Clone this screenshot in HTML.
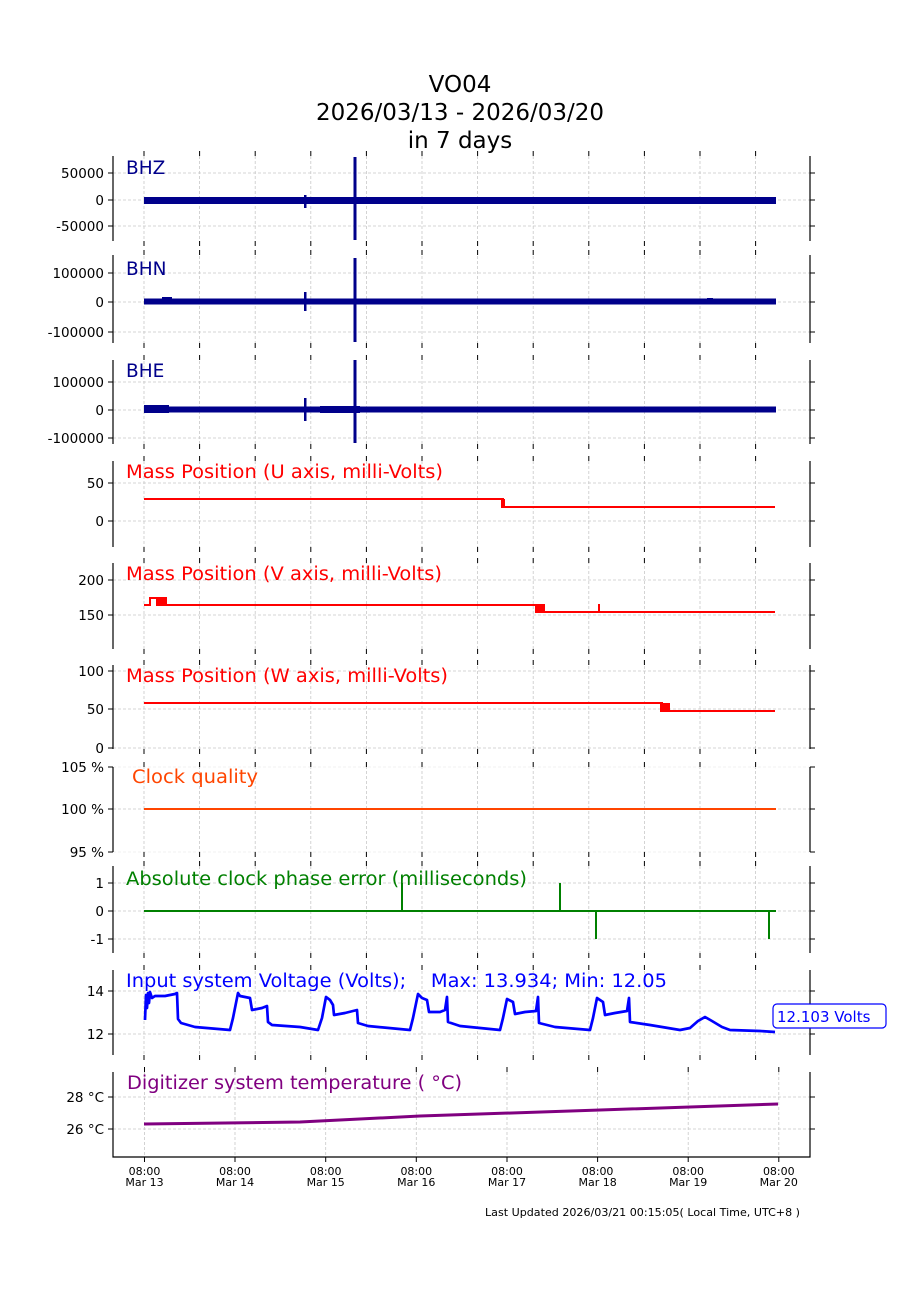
<!DOCTYPE html>
<html><head><meta charset="utf-8"><style>body{margin:0;background:#fff}svg{display:block}text{font-family:"DejaVu Sans","Liberation Sans",sans-serif}</style></head>
<body>
<svg width="900" height="1300" viewBox="0 0 900 1300" xmlns="http://www.w3.org/2000/svg">
<defs>
<g id="tk" stroke="#000" stroke-width="1">
<line x1="144" y1="0" x2="144" y2="5"/><line x1="199.6" y1="0" x2="199.6" y2="5"/><line x1="255.2" y1="0" x2="255.2" y2="5"/><line x1="310.8" y1="0" x2="310.8" y2="5"/><line x1="366.4" y1="0" x2="366.4" y2="5"/><line x1="422" y1="0" x2="422" y2="5"/><line x1="477.6" y1="0" x2="477.6" y2="5"/><line x1="533.2" y1="0" x2="533.2" y2="5"/><line x1="588.8" y1="0" x2="588.8" y2="5"/><line x1="644.4" y1="0" x2="644.4" y2="5"/><line x1="700" y1="0" x2="700" y2="5"/><line x1="755.6" y1="0" x2="755.6" y2="5"/>
</g>
</defs>

<g font-size="23" text-anchor="middle" fill="#000">
<text x="460" y="92">VO04</text>
<text x="460" y="120">2026/03/13 - 2026/03/20</text>
<text x="460" y="148">in 7 days</text>
</g>

<!-- vertical grids full height -->
<g stroke="#c8c8c8" stroke-width="0.8" stroke-dasharray="3,2">
<line x1="144" y1="156" x2="144" y2="1055"/><line x1="199.6" y1="156" x2="199.6" y2="1055"/><line x1="255.2" y1="156" x2="255.2" y2="1055"/><line x1="310.8" y1="156" x2="310.8" y2="1055"/><line x1="366.4" y1="156" x2="366.4" y2="1055"/><line x1="422" y1="156" x2="422" y2="1055"/><line x1="477.6" y1="156" x2="477.6" y2="1055"/><line x1="533.2" y1="156" x2="533.2" y2="1055"/><line x1="588.8" y1="156" x2="588.8" y2="1055"/><line x1="644.4" y1="156" x2="644.4" y2="1055"/><line x1="700" y1="156" x2="700" y2="1055"/><line x1="755.6" y1="156" x2="755.6" y2="1055"/>
</g>
<g fill="#fff">
<rect x="120" y="241.5" width="680" height="13"/>
<rect x="120" y="343.5" width="680" height="16"/>
<rect x="120" y="444.5" width="680" height="16"/>
<rect x="120" y="547.5" width="680" height="15"/>
<rect x="120" y="649.5" width="680" height="15"/>
<rect x="120" y="749.5" width="680" height="17"/>
<rect x="120" y="852.5" width="680" height="13"/>
<rect x="120" y="953.5" width="680" height="16"/>
</g>
<!-- temperature panel grid -->
<g stroke="#c8c8c8" stroke-width="0.8" stroke-dasharray="3,2">
<line x1="144.5" y1="1072" x2="144.5" y2="1157"/><line x1="235" y1="1072" x2="235" y2="1157"/><line x1="325.7" y1="1072" x2="325.7" y2="1157"/><line x1="416.3" y1="1072" x2="416.3" y2="1157"/><line x1="507" y1="1072" x2="507" y2="1157"/><line x1="597.6" y1="1072" x2="597.6" y2="1157"/><line x1="688.2" y1="1072" x2="688.2" y2="1157"/><line x1="778.8" y1="1072" x2="778.8" y2="1157"/>
</g>
<!-- horizontal grids -->
<g stroke="#c8c8c8" stroke-width="0.8" stroke-dasharray="3,2">
<line x1="113" x2="810" y1="173" y2="173"/><line x1="113" x2="810" y1="200" y2="200"/><line x1="113" x2="810" y1="226" y2="226"/>
<line x1="113" x2="810" y1="273" y2="273"/><line x1="113" x2="810" y1="302" y2="302"/><line x1="113" x2="810" y1="332" y2="332"/>
<line x1="113" x2="810" y1="382" y2="382"/><line x1="113" x2="810" y1="410" y2="410"/><line x1="113" x2="810" y1="438" y2="438"/>
<line x1="113" x2="810" y1="483" y2="483"/><line x1="113" x2="810" y1="521" y2="521"/>
<line x1="113" x2="810" y1="580" y2="580"/><line x1="113" x2="810" y1="615" y2="615"/>
<line x1="113" x2="810" y1="671" y2="671"/><line x1="113" x2="810" y1="709" y2="709"/><line x1="113" x2="810" y1="748" y2="748"/>
<line x1="113" x2="810" y1="767" y2="767" stroke="#eee"/><line x1="113" x2="810" y1="809" y2="809"/><line x1="113" x2="810" y1="852" y2="852" stroke="#eee"/>
<line x1="113" x2="810" y1="883" y2="883"/><line x1="113" x2="810" y1="911" y2="911"/><line x1="113" x2="810" y1="939" y2="939"/>
<line x1="113" x2="810" y1="991" y2="991"/><line x1="113" x2="810" y1="1034" y2="1034"/>
<line x1="113" x2="810" y1="1097" y2="1097"/><line x1="113" x2="810" y1="1129" y2="1129"/>
</g>

<!-- x ticks -->
<use href="#tk" y="151"/><use href="#tk" y="241"/>
<use href="#tk" y="250"/><use href="#tk" y="343"/>
<use href="#tk" y="355"/><use href="#tk" y="444"/>
<use href="#tk" y="456"/><use href="#tk" y="547"/>
<use href="#tk" y="558"/><use href="#tk" y="649"/>
<use href="#tk" y="660"/><use href="#tk" y="749"/>
<use href="#tk" y="762"/><use href="#tk" y="852"/>
<use href="#tk" y="861"/><use href="#tk" y="953"/>
<use href="#tk" y="965"/><use href="#tk" y="1055"/>
<g stroke="#000" stroke-width="1">
<line x1="144.5" y1="1067" x2="144.5" y2="1072"/><line x1="235" y1="1067" x2="235" y2="1072"/><line x1="325.7" y1="1067" x2="325.7" y2="1072"/><line x1="416.3" y1="1067" x2="416.3" y2="1072"/><line x1="507" y1="1067" x2="507" y2="1072"/><line x1="597.6" y1="1067" x2="597.6" y2="1072"/><line x1="688.2" y1="1067" x2="688.2" y2="1072"/><line x1="778.8" y1="1067" x2="778.8" y2="1072"/>
<line x1="144.5" y1="1157" x2="144.5" y2="1162"/><line x1="235" y1="1157" x2="235" y2="1162"/><line x1="325.7" y1="1157" x2="325.7" y2="1162"/><line x1="416.3" y1="1157" x2="416.3" y2="1162"/><line x1="507" y1="1157" x2="507" y2="1162"/><line x1="597.6" y1="1157" x2="597.6" y2="1162"/><line x1="688.2" y1="1157" x2="688.2" y2="1162"/><line x1="778.8" y1="1157" x2="778.8" y2="1162"/>
</g>

<!-- spines -->
<g stroke="#000" stroke-width="1.2" fill="none">
<path d="M113 156V241M810 156V241M113 255V343M810 255V343M113 360V444M810 360V444M113 461V547M810 461V547M113 563V649M810 563V649M113 665V749M810 665V749M113 767V852M810 767V852M113 866V953M810 866V953M113 970V1055M810 970V1055M113 1072V1157H810V1072"/>
</g>
<g stroke="#000" stroke-width="1">
<path d="M108 173H113M108 200H113M108 226H113M810 173H815M810 200H815M810 226H815
M108 273H113M108 302H113M108 332H113M810 273H815M810 302H815M810 332H815
M108 382H113M108 410H113M108 438H113M810 382H815M810 410H815M810 438H815
M108 483H113M108 521H113M810 483H815M810 521H815
M108 580H113M108 615H113M810 580H815M810 615H815
M108 671H113M108 709H113M108 748H113M810 671H815M810 709H815M810 748H815
M108 767H113M108 809H113M108 852H113M810 767H815M810 809H815M810 852H815
M108 883H113M108 911H113M108 939H113M810 883H815M810 911H815M810 939H815
M108 991H113M108 1034H113M810 991H815M810 1034H815
M108 1097H113M108 1129H113M810 1097H815M810 1129H815"/>
</g>
<g font-size="13.5" text-anchor="end" fill="#000">
<text x="104" y="178">50000</text><text x="104" y="205">0</text><text x="104" y="231">-50000</text>
<text x="104" y="278">100000</text><text x="104" y="307">0</text><text x="104" y="337">-100000</text>
<text x="104" y="387">100000</text><text x="104" y="415">0</text><text x="104" y="443">-100000</text>
<text x="104" y="488">50</text><text x="104" y="526">0</text>
<text x="104" y="585">200</text><text x="104" y="620">150</text>
<text x="104" y="676">100</text><text x="104" y="714">50</text><text x="104" y="753">0</text>
<text x="104" y="772">105 %</text><text x="104" y="814">100 %</text><text x="104" y="857">95 %</text>
<text x="104" y="888">1</text><text x="104" y="916">0</text><text x="104" y="944">-1</text>
<text x="104" y="996">14</text><text x="104" y="1039">12</text>
<text x="104" y="1102">28 °C</text><text x="104" y="1134">26 °C</text>
</g>

<!-- seismic traces -->
<g fill="#00008b">
<rect x="144" y="197" width="632" height="7"/>
<rect x="353.5" y="157" width="3" height="83"/>
<rect x="304" y="195" width="2.5" height="13"/>
<rect x="144" y="298.5" width="632" height="6"/>
<rect x="162" y="297" width="10" height="3"/>
<rect x="707" y="298" width="6" height="5"/>
<rect x="353.5" y="258" width="3" height="84"/>
<rect x="304" y="292" width="2.5" height="19"/>
<rect x="144" y="406.5" width="632" height="6"/>
<rect x="144" y="405" width="25" height="8"/>
<rect x="320" y="406" width="40" height="7"/>
<rect x="353.5" y="360" width="3" height="83"/>
<rect x="304" y="398" width="2.5" height="23"/>
</g>

<g stroke="#ff0000" stroke-width="2" fill="none">
<path d="M144 499H503V507H775"/>
<path d="M144 605H150V598H166V605H538V612H775"/>
<path d="M599 604V612"/>
<path d="M144 703H662V711H775"/>
</g>
<g fill="#ff0000">
<rect x="501" y="499" width="4" height="9"/>
<rect x="156" y="598" width="10" height="8"/>
<rect x="535" y="604" width="10" height="9"/>
<rect x="660" y="703" width="10" height="9"/>
</g>

<path d="M144 809H776" stroke="#ff4500" stroke-width="2"/>
<path d="M144 911H776M402 911V883M560 911V883M596 911V939M769 911V939" stroke="#008000" stroke-width="2" fill="none"/>

<path fill="none" stroke="#0000ff" stroke-width="2.7" stroke-linejoin="round" d="M145 1020L146 995L147 1008L148 993L149 1003L150 992L152 998L155 996L165 996L175 994L177 993L178 1019L181 1023L195 1027L230 1030L233 1018L238 993L240 996L250 998L252 1010L262 1008L267 1006L268 1022L272 1025L300 1027L318 1030L322 1018L326 997L330 1000L333 1005L334 1015L345 1013L357 1010L358 1023L368 1026L410 1030L413 1018L418 994L422 998L427 1000L429 1012L440 1012L445 1010L447 997L448 1022L460 1026L500 1030L503 1018L507 999L513 1002L515 1014L525 1012L536 1011L538 997L539 1023L555 1027L590 1030L593 1018L597 998L603 1002L605 1015L615 1013L627 1011L629 998L630 1022L650 1025L680 1030L690 1028L698 1021L705 1017L712 1021L722 1027L730 1030L760 1031L775 1032"/>
<rect x="773" y="1004" width="113" height="24" rx="4" ry="4" fill="#fff" stroke="#0000ff" stroke-width="1.2"/>
<text x="777" y="1022" font-size="15" fill="#0000ff">12.103 Volts</text>

<path d="M144 1124L300 1122L420 1116L600 1110L778 1104" stroke="#800080" stroke-width="3" fill="none"/>

<g font-size="18.5">
<text x="126" y="174" fill="#00008b">BHZ</text>
<text x="126" y="275" fill="#00008b">BHN</text>
<text x="126" y="377" fill="#00008b">BHE</text>
<text x="126" y="478" fill="#ff0000" textLength="317" lengthAdjust="spacingAndGlyphs">Mass Position (U axis, milli-Volts)</text>
<text x="126" y="580" fill="#ff0000" textLength="316" lengthAdjust="spacingAndGlyphs">Mass Position (V axis, milli-Volts)</text>
<text x="126" y="682" fill="#ff0000" textLength="322" lengthAdjust="spacingAndGlyphs">Mass Position (W axis, milli-Volts)</text>
<text x="132" y="783" fill="#ff4500" textLength="126" lengthAdjust="spacingAndGlyphs">Clock quality</text>
<text x="126" y="885" fill="#008000" textLength="401" lengthAdjust="spacingAndGlyphs">Absolute clock phase error (milliseconds)</text>
<text x="126" y="987" fill="#0000ff" xml:space="preserve" textLength="541" lengthAdjust="spacingAndGlyphs">Input system Voltage (Volts);    Max: 13.934; Min: 12.05</text>
<text x="127" y="1089" fill="#800080" textLength="335" lengthAdjust="spacingAndGlyphs">Digitizer system temperature ( °C)</text>
</g>

<g font-size="11" text-anchor="middle" fill="#000">
<text x="144.5" y="1175">08:00</text><text x="144.5" y="1186">Mar 13</text>
<text x="235" y="1175">08:00</text><text x="235" y="1186">Mar 14</text>
<text x="325.7" y="1175">08:00</text><text x="325.7" y="1186">Mar 15</text>
<text x="416.3" y="1175">08:00</text><text x="416.3" y="1186">Mar 16</text>
<text x="507" y="1175">08:00</text><text x="507" y="1186">Mar 17</text>
<text x="597.6" y="1175">08:00</text><text x="597.6" y="1186">Mar 18</text>
<text x="688.2" y="1175">08:00</text><text x="688.2" y="1186">Mar 19</text>
<text x="778.8" y="1175">08:00</text><text x="778.8" y="1186">Mar 20</text>
</g>
<text x="485" y="1216" font-size="11" fill="#000" textLength="315" lengthAdjust="spacingAndGlyphs">Last Updated 2026/03/21 00:15:05( Local Time, UTC+8 )</text>
</svg>
</body></html>
